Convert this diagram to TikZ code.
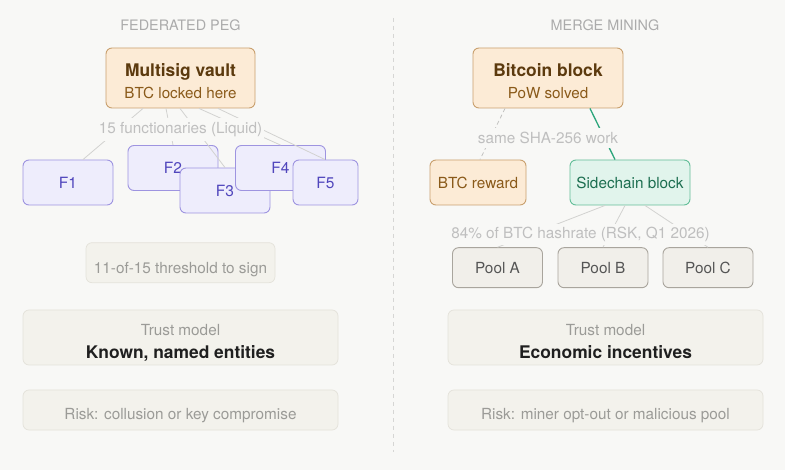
\documentclass[tikz,border=0pt]{standalone}
\usepackage{fontspec}
\setmainfont{TeX Gyre Heros}
\definecolor{bg}{HTML}{F8F8F6}
\definecolor{hdr}{HTML}{ABABAB}
\definecolor{vfill}{HTML}{FCEBD6}
\definecolor{vdraw}{HTML}{C9A06E}
\definecolor{vtitle}{HTML}{5C3A0E}
\definecolor{vsub}{HTML}{8A5A1A}
\definecolor{lbl}{HTML}{BFBFBF}
\definecolor{conn}{HTML}{D2D2D0}
\definecolor{ffill}{HTML}{EEEDFC}
\definecolor{fdraw}{HTML}{9E94E0}
\definecolor{ftext}{HTML}{5046BC}
\definecolor{nfill}{HTML}{F3F2EC}
\definecolor{ndraw}{HTML}{E4E2DA}
\definecolor{ntext}{HTML}{9B9B97}
\definecolor{dark}{HTML}{1F1F1F}
\definecolor{gfill}{HTML}{E1F4EC}
\definecolor{gdraw}{HTML}{62BE98}
\definecolor{gtext}{HTML}{1C6E50}
\definecolor{gline}{HTML}{2AA57A}
\definecolor{pfill}{HTML}{F1EFEA}
\definecolor{pdraw}{HTML}{A9A59D}
\definecolor{ptext}{HTML}{555555}
\definecolor{divc}{HTML}{D6D6D4}
\tikzset{
  boxbase/.style={rectangle, rounded corners=6pt, inner sep=0pt, line width=0.9pt},
  vaultbox/.style={boxbase, fill=vfill, draw=vdraw},
  fbox/.style={boxbase, fill=ffill, draw=fdraw, text=ftext, font=\fontsize{15.5}{16}\selectfont, minimum width=90pt, minimum height=45pt},
  notebox/.style={boxbase, fill=nfill, draw=ndraw, line width=0.7pt},
  greenbox/.style={boxbase, fill=gfill, draw=gdraw, text=gtext, font=\fontsize{15.3}{16}\selectfont},
  poolbox/.style={boxbase, fill=pfill, draw=pdraw, text=ptext, font=\fontsize{15.3}{16}\selectfont, minimum width=90pt, minimum height=40pt},
  txt/.style={inner sep=0pt, anchor=base},
  hdrtxt/.style={txt, text=hdr, font=\fontsize{14.4}{15}\selectfont},
  lbltxt/.style={anchor=base, inner ysep=4pt, inner xsep=2pt, fill=bg, text=lbl, font=\fontsize{15.3}{16}\selectfont},
  titletxt/.style={txt, font=\bfseries\fontsize{17.4}{18}\selectfont},
  subtxt/.style={txt, font=\fontsize{15.2}{16}\selectfont},
  conline/.style={draw=conn, line width=0.8pt},
}
\begin{document}
\begin{tikzpicture}[x=1pt,y=-1pt]
\fill[bg] (0,0) rectangle (785,470);
\useasboundingbox (0,0) rectangle (785,470);
\draw[divc, line width=1pt, dash pattern=on 4pt off 4pt] (393,18) coordinate (d1) -- (393,452) coordinate (d2);

% ---------- left: federated peg ----------
\node[hdrtxt] (hl) at (180.5,31) {FEDERATED PEG};
\node[vaultbox, minimum width=149pt, minimum height=60pt] (vault) at (180.5,78) {};
\node[titletxt, text=vtitle] (vt) at (180.5,76.7) {Multisig vault};
\node[subtxt, text=vsub] (vs) at (180.5,99) {BTC locked here};

\node[fbox] (f1) at (68,182.5) {F1};
\node[fbox] (f2) at (173,168) {F2};
\node[fbox] (f3) at (225,190.5) {F3};
\node[fbox] (f4) at (280.5,168) {F4};
\node[fbox, minimum width=65pt] (f5) at (325.5,182.5) {F5};

\path[conline] ([xshift=-37.5pt]vault.south) -- ([xshift=15pt]f1.north);
\path[conline] ([xshift=-14.5pt]vault.south) -- (f2.north);
\path[conline] ([xshift=-0.5pt]vault.south) -- (f3.north);
\path[conline] ([xshift=18.5pt]vault.south) -- (f4.north);
\path[conline] ([xshift=37.5pt]vault.south) -- ([xshift=-0.5pt]f5.north);
\node[lbltxt] (fl) at (180.5,133.3) {15 functionaries (Liquid)};

\node[notebox, minimum width=189pt, minimum height=40pt] (thr) at (180.5,262.7) {};
\node[txt, text=ntext, font=\fontsize{15.3}{16}\selectfont] (thrt) at (180.5,274) {11-of-15 threshold to sign};

\node[notebox, minimum width=315pt, minimum height=55pt] (tl) at (180.5,337.5) {};
\node[txt, text=ntext, font=\fontsize{15.3}{16}\selectfont] (tlh) at (180.5,335.7) {Trust model};
\node[titletxt, text=dark] (tlm) at (180.5,358.3) {Known, named entities};

\node[notebox, minimum width=315pt, minimum height=40pt] (rl) at (180.5,410) {};
\node[txt, text=ntext, font=\fontsize{15.3}{16}\selectfont] (rlt) at (180.5,420) {Risk: collusion or key compromise};

% ---------- right: merge mining ----------
\node[hdrtxt] (hr) at (605,31) {MERGE MINING};
\node[vaultbox, minimum width=150pt, minimum height=60pt] (btc) at (548,78) {};
\node[titletxt, text=vtitle] (bt) at (548,76.7) {Bitcoin block};
\node[subtxt, text=vsub] (bs) at (548,99) {PoW solved};

\node[vaultbox, text=vsub, font=\fontsize{15.3}{16}\selectfont, minimum width=96pt, minimum height=45pt] (rew) at (478,182.5) {BTC reward};
\node[greenbox, minimum width=120pt, minimum height=45pt] (side) at (630,182.5) {Sidechain block};

\draw[conn!80!gray, line width=0.8pt, dash pattern=on 4pt off 3pt] ([xshift=-43pt]btc.south) -- ([xshift=2pt]rew.north);
\draw[gline, line width=1.3pt] ([xshift=42pt]btc.south) -- ([xshift=-15pt]side.north);
\node[lbltxt] (sl) at (548,143.3) {same SHA-256 work};

\node[poolbox] (pa) at (497.5,267.7) {Pool A};
\node[poolbox] (pb) at (603,267.7) {Pool B};
\node[poolbox] (pc) at (708,267.7) {Pool C};

\path[conline] ([xshift=-25pt]side.south) -- (pa.north);
\path[conline] ([xshift=-5pt]side.south) -- (pb.north);
\path[conline] ([xshift=15pt]side.south) -- (pc.north);
\node[lbltxt, inner ysep=3pt] (hl2) at (580.5,238.3) {84\% of BTC hashrate (RSK, Q1 2026)};

\node[notebox, minimum width=315pt, minimum height=55pt] (tr) at (605.5,337.5) {};
\node[txt, text=ntext, font=\fontsize{15.3}{16}\selectfont] (trh) at (605.5,335.7) {Trust model};
\node[titletxt, text=dark] (trm) at (605.5,358.3) {Economic incentives};

\node[notebox, minimum width=315pt, minimum height=40pt] (rr) at (605.5,410) {};
\node[txt, text=ntext, font=\fontsize{15.3}{16}\selectfont] (rrt) at (605.5,420) {Risk: miner opt-out or malicious pool};
\end{tikzpicture}
\end{document}
